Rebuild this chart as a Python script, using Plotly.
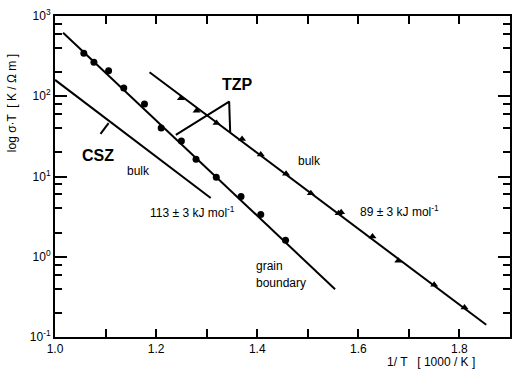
import plotly.graph_objects as go

# ---- data ----
gb_x = [1.057, 1.077, 1.106, 1.136, 1.177, 1.210, 1.250, 1.279, 1.319, 1.368, 1.407, 1.456]
gb_y = [343, 265, 208, 127, 80, 40.3, 27.7, 16.4, 9.8, 5.65, 3.37, 1.60]
gb_line_x = [1.016, 1.554]
gb_line_y = [620, 0.394]

tzp_x = [1.249, 1.280, 1.3195, 1.370, 1.407, 1.457, 1.506, 1.561, 1.566, 1.628, 1.679, 1.750, 1.810]
tzp_y = [94.4, 66.2, 46.5, 29.4, 18.8, 10.8, 6.19, 3.49, 3.59, 1.79, 0.889, 0.447, 0.233]
tzp_line_x = [1.187, 1.853]
tzp_line_y = [199, 0.142]

csz_bulk_x = [1.0, 1.308]
csz_bulk_y = [160, 5.4]

# annotation leader lines
tzp_bracket_x = [1.239, 1.3445, 1.3465]
tzp_bracket_y = [33.0, 85.7, 35.9]
csz_ptr_x = [1.090, 1.106]
csz_ptr_y = [33.9, 46.2]

x_ticks = [1.0, 1.2, 1.4, 1.6, 1.8]
x_ticktext = ["1.0", "1.2", "1.4", "1.6", "1.8"]
x_minor = [1.1, 1.3, 1.5, 1.7, 1.9]
y_ticks = [0.1, 1, 10, 100, 1000]
y_ticktext = ["10<sup>-1</sup>", "10<sup>0</sup>", "10<sup>1</sup>", "10<sup>2</sup>", "10<sup>3</sup>"]
y_minor = [m * d for d in [0.1, 1, 10, 100] for m in (2, 4, 6, 8)]

FONT = "Liberation Sans, Arial, sans-serif"
L, R, T, B = 55, 0, 16, 42
W, H = 512, 379
PW, PH = W - L - R, H - T - B


def px(xp):
    return (xp - L) / PW


def py(yp):
    return (H - B - yp) / PH


fig = go.Figure()
line_style = dict(color="black", width=2)
fig.add_trace(go.Scatter(x=gb_line_x, y=gb_line_y, mode="lines", line=line_style))
fig.add_trace(go.Scatter(x=csz_bulk_x, y=csz_bulk_y, mode="lines", line=line_style))
fig.add_trace(go.Scatter(x=tzp_line_x, y=tzp_line_y, mode="lines", line=line_style))
fig.add_trace(go.Scatter(x=tzp_bracket_x, y=tzp_bracket_y, mode="lines", line=line_style))
fig.add_trace(go.Scatter(x=csz_ptr_x, y=csz_ptr_y, mode="lines", line=line_style))
fig.add_trace(go.Scatter(x=gb_x, y=gb_y, mode="markers",
                         marker=dict(symbol="circle", size=7, color="black")))
fig.add_trace(go.Scatter(x=tzp_x, y=tzp_y, mode="markers",
                         marker=dict(symbol="triangle-up", size=7, color="black")))
# invisible trace to anchor the mirrored (top/right) tick axes
fig.add_trace(go.Scatter(x=[1.5], y=[10], xaxis="x2", yaxis="y2", mode="markers",
                         marker=dict(opacity=0), hoverinfo="skip"))

ann = [
    dict(text="<b>TZP</b>", x=238, y=84, size=16),
    dict(text="<b>CSZ</b>", x=98, y=155, size=16),
    dict(text="bulk", x=139, y=171, size=12),
    dict(text="bulk", x=311, y=161, size=12),
    dict(text="113 ± 3 kJ mol<sup>-1</sup>", x=193, y=212, size=12),
    dict(text="89 ± 3 kJ mol<sup>-1</sup>", x=401, y=211, size=12),
]
annotations = []
for a in ann:
    annotations.append(dict(text=a["text"], x=px(a["x"]), y=py(a["y"]), xref="paper", yref="paper",
                            showarrow=False, xanchor="center", yanchor="middle",
                            font=dict(family=FONT, size=a["size"], color="black")))
for t, xx, yy in [("grain", 255, 266), ("boundary", 255, 283)]:
    annotations.append(dict(text=t, x=px(xx), y=py(yy), xref="paper", yref="paper",
                            showarrow=False, xanchor="left", yanchor="middle",
                            font=dict(family=FONT, size=12, color="black")))
annotations.append(dict(text="log σ·T  [ K / Ω m ]", x=px(12), y=py(103), xref="paper", yref="paper",
                        showarrow=False, textangle=-90, xanchor="center", yanchor="middle",
                        font=dict(family=FONT, size=12, color="black")))
annotations.append(dict(text="1/ T   [ 1000 / K ]", x=px(433), y=py(362), xref="paper", yref="paper",
                        showarrow=False, xanchor="center", yanchor="middle",
                        font=dict(family=FONT, size=12, color="black")))

tick_common = dict(tickcolor="black", tickwidth=1.5, showgrid=False, zeroline=False)
xa = dict(range=[1.0, 1.9], tickvals=x_ticks, ticks="inside", ticklen=8,
          minor=dict(tickvals=x_minor, ticks="inside", ticklen=8, tickwidth=1.5,
                     tickcolor="black", showgrid=False), **tick_common)
ya = dict(type="log", range=[-1, 3], tickvals=y_ticks, ticks="inside", ticklen=12,
          minor=dict(tickvals=y_minor, ticks="inside", ticklen=7, tickwidth=1.5,
                     tickcolor="black", showgrid=False), **tick_common)

fig.update_layout(
    width=W, height=H,
    margin=dict(l=L, r=R, t=T, b=B),
    paper_bgcolor="white", plot_bgcolor="white",
    showlegend=False,
    annotations=annotations,
    xaxis=dict(xa, ticktext=x_ticktext, showline=True, linecolor="black", linewidth=2, mirror=True,
               tickfont=dict(family=FONT, size=12, color="black")),
    yaxis=dict(ya, ticktext=y_ticktext, showline=True, linecolor="black", linewidth=2, mirror=True,
               tickfont=dict(family=FONT, size=12, color="black")),
    xaxis2=dict(xa, overlaying="x", side="top", showticklabels=False, showline=False),
    yaxis2=dict(ya, overlaying="y", side="right", showticklabels=False, showline=False),
)

fig.write_html("out.html")
